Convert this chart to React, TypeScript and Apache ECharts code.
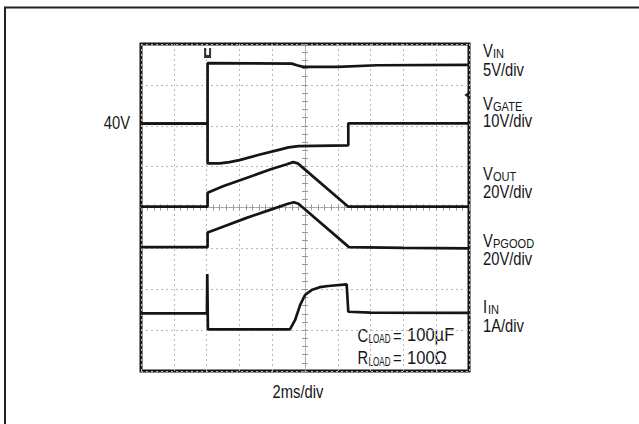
import React, { useEffect, useRef } from "react";
import * as echarts from "echarts";

// Oscilloscope traces, x in time divisions (0..10), y in vertical divisions (0..8)
const vinData = [
  [0, 6.05], [2.03, 6.05], [2.03, 7.53], [4.6, 7.52], [4.75, 7.48], [4.95, 7.44],
  [6.0, 7.44], [7.2, 7.48], [10, 7.49],
];
const vgateData = [
  [0, 6.05], [2.03, 6.05], [2.03, 5.08], [2.4, 5.08], [2.7, 5.11], [3.0, 5.16],
  [3.6, 5.29], [4.2, 5.41], [4.5, 5.47], [4.8, 5.5], [6.32, 5.52], [6.32, 6.06], [10, 6.06],
];
const voutData = [
  [0, 4.02], [2.03, 4.02], [2.03, 4.36], [2.5, 4.52], [3.17, 4.71], [3.98, 4.94],
  [4.45, 5.06], [4.64, 5.11], [4.78, 5.08], [6.32, 4.02], [10, 4.02],
];
const vpgoodData = [
  [0, 3.03], [2.03, 3.03], [2.03, 3.39], [2.5, 3.53], [3.2, 3.74], [4.0, 3.96],
  [4.48, 4.09], [4.66, 4.13], [4.8, 4.09], [6.34, 3.03], [8, 3.01], [10, 3.0],
];
const iinData = [
  [0, 1.41], [2.01, 1.41], [2.02, 2.37], [2.04, 1.02], [4.54, 1.02], [4.7, 1.25],
  [4.85, 1.61], [5.0, 1.86], [5.2, 1.98], [5.45, 2.05], [5.71, 2.08], [6.27, 2.12],
  [6.32, 1.45], [7, 1.43], [10, 1.42],
];
const triggerMark = [2.03, 7.78];
const groundMark = [9.92, 6.75];

const channelLabels = [
  { main: "V", sub: "IN", scale: "5V/div" },
  { main: "V", sub: "GATE", scale: "10V/div" },
  { main: "V", sub: "OUT", scale: "20V/div" },
  { main: "V", sub: "PGOOD", scale: "20V/div" },
  { main: "I", sub: "IN", scale: "1A/div" },
];
const levelLabel = "40V";
const timeLabel = "2ms/div";
const loadLabels = [
  { main: "C", sub: "LOAD", value: "100µF" },
  { main: "R", sub: "LOAD", value: "100Ω" },
];

const FONT = '"Liberation Sans", Arial, sans-serif';
const NARROW = 0.82;
const INK = "#151515";

export default function App() {
  const ref = useRef<HTMLDivElement>(null);
  useEffect(() => {
    document.body.style.margin = "0";
    const chart = echarts.init(ref.current!, null, { renderer: "svg" });

    const mainY = [50, 103.3, 173.3, 240, 306.5];
    const scaleY = [69.5, 120, 191.5, 258.3, 325];
    const subX = [493, 493, 493, 493, 488];
    const txt = (x: number, y: number, text: string, size: number, align = "left", sx = NARROW) => ({
      type: "text",
      x,
      y,
      scaleX: sx,
      silent: true,
      style: {
        text,
        fill: INK,
        fontSize: size,
        fontFamily: FONT,
        align,
        verticalAlign: "middle",
      },
    });
    const graphics: any[] = [
      {
        type: "polyline",
        silent: true,
        shape: { points: [[5, 424], [5, 7.5], [640, 7.5]] },
        style: { stroke: "#222", lineWidth: 2, fill: "none" },
      },
    ];
    channelLabels.forEach((c, i) => {
      graphics.push(txt(483, mainY[i], c.main, 18));
      graphics.push(txt(subX[i], mainY[i] + 3.3, c.sub, 13.5));
      graphics.push(txt(483, scaleY[i], c.scale, 18));
    });
    const loadY = [335, 357.3];
    loadLabels.forEach((l, i) => {
      graphics.push(txt(357.5, loadY[i], l.main, 18));
      graphics.push(txt(368.5, loadY[i] + 3.6, l.sub, 13.5, "left", 0.6));
      graphics.push(txt(393, loadY[i], "=", 18));
      graphics.push(txt(407, loadY[i], l.value, 18, "left", 0.92));
    });
    graphics.push(txt(130, 122, levelLabel, 18, "right"));
    graphics.push(txt(298, 391, timeLabel, 18, "center"));

    const trace = (name: string, data: number[][], extra: any = {}) => ({
      name,
      type: "line",
      data,
      symbol: "none",
      showSymbol: false,
      silent: true,
      clip: true,
      lineStyle: { color: INK, width: 2.7 },
      ...extra,
    });

    const centerLine = { show: true, onZero: true, onZeroAxisIndex: 1, lineStyle: { color: "#a0a0a0", width: 1, type: [2, 2] } };
    const tickStyle = { color: "#999", width: 1 };
    const centerX = (inside: boolean) => ({
      type: "value",
      min: -5,
      max: 5,
      interval: 1,
      position: "bottom",
      axisLine: centerLine,
      axisTick: { show: true, length: 3, inside, lineStyle: tickStyle },
      minorTick: { show: true, splitNumber: 5, length: 3, lineStyle: tickStyle },
      axisLabel: { show: false },
      splitLine: { show: false },
    });
    const centerY = (inside: boolean) => ({
      type: "value",
      min: -4,
      max: 4,
      interval: 1,
      position: "left",
      axisLine: centerLine,
      axisTick: { show: true, length: 3, inside, lineStyle: tickStyle },
      minorTick: { show: true, splitNumber: 5, length: 3, lineStyle: tickStyle },
      axisLabel: { show: false },
      splitLine: { show: false },
    });
    const gridLine = { show: true, lineStyle: { color: "#b8b8b8", width: 1, type: [2, 3] } };

    chart.setOption({
      animation: false,
      backgroundColor: "#ffffff",
      grid: {
        left: 141,
        top: 44,
        width: 328,
        height: 327,
        show: true,
        borderColor: INK,
        borderWidth: 3,
        backgroundColor: "transparent",
        containLabel: false,
      },
      xAxis: [
        {
          type: "value",
          min: 0,
          max: 10,
          interval: 1,
          axisLine: { show: false },
          axisTick: { show: false },
          axisLabel: { show: false },
          splitLine: gridLine,
        },
        centerX(false),
        centerX(true),
      ],
      yAxis: [
        {
          type: "value",
          min: 0,
          max: 8,
          interval: 1,
          axisLine: { show: false },
          axisTick: { show: false },
          axisLabel: { show: false },
          splitLine: gridLine,
        },
        centerY(false),
        centerY(true),
      ],
      series: [
        trace("VIN", vinData, {
          markPoint: {
            silent: true,
            animation: false,
            label: { show: false },
            data: [
              {
                coord: triggerMark,
                symbol: "path://M0,0 H2 V7 H5 V0 H7 V10 H0 Z",
                symbolSize: [7, 10],
                itemStyle: { color: "#333" },
              },
              {
                coord: groundMark,
                symbol: "triangle",
                symbolSize: [6, 4],
                symbolRotate: 90,
                itemStyle: { color: "#222" },
              },
            ],
          },
        }),
        trace("VGATE", vgateData),
        trace("VOUT", voutData),
        trace("VPGOOD", vpgoodData),
        trace("IIN", iinData),
      ],
      graphic: graphics,
    });
    return () => chart.dispose();
  }, []);
  return <div ref={ref} style={{ position: "absolute", left: 0, top: 0, width: 639, height: 424 }} />;
}
